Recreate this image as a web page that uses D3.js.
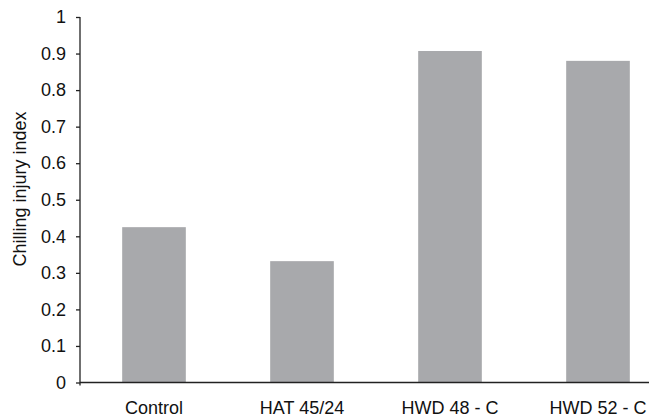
<html>
<head>
<script src="https://d3js.org/d3.v7.min.js"></script>
<style>
  body { margin: 0; background: #fff; }
  text { font-family: "Liberation Sans", Arial, sans-serif; fill: #111; }
</style>
</head>
<body>
<div id="chart"></div>
<script>
// data
var categories = ["Control", "HAT 45/24", "HWD 48 - C", "HWD 52 - C"];
var values = [0.425, 0.332, 0.907, 0.880];
var yTicks = [0, 0.1, 0.2, 0.3, 0.4, 0.5, 0.6, 0.7, 0.8, 0.9, 1];

const width = 649, height = 419;
const left = 80, zeroY = 382.5, topY = 17;

const svg = d3.select("#chart").append("svg")
    .attr("width", width)
    .attr("height", height);

var x = d3.scaleBand()
    .domain(categories)
    .range([left, left + 4 * 148])
    .paddingInner(0.57)
    .paddingOuter(0.285);

var y = d3.scaleLinear().domain([0, 1]).range([zeroY, topY]);

// bars
svg.selectAll("rect")
    .data(values)
    .enter()
    .append("rect")
    .attr("x", (d, i) => x(categories[i]))
    .attr("width", x.bandwidth())
    .attr("y", d => y(d))
    .attr("height", d => y(0) - y(d))
    .style("fill", "#a8a9ac");

// y axis
var yAxis = svg.append("g")
    .attr("transform", "translate(" + left + ",0)")
    .call(d3.axisLeft(y).tickValues(yTicks).tickSize(4).tickPadding(10)
        .tickFormat(d => d === 0 ? "0" : d === 1 ? "1" : d3.format(".1f")(d)));
yAxis.select(".domain").attr("stroke", "#222").attr("stroke-width", 1.3).attr("d", "M0," + (zeroY + 3) + "V" + topY);
yAxis.selectAll(".tick line").attr("stroke", "#222").attr("stroke-width", 1.3);
yAxis.selectAll(".tick text").style("font-size", "18px")
    .style("font-family", "'Liberation Sans', Arial, sans-serif").attr("fill", "#111");

// x axis
var xAxis = svg.append("g")
    .attr("transform", "translate(0," + zeroY + ")")
    .call(d3.axisBottom(x).tickSize(0).tickPadding(19));
xAxis.select(".domain").attr("stroke", "#222").attr("stroke-width", 1.3).attr("d", "M" + left + ",0H" + width);
xAxis.selectAll(".tick text").style("font-size", "18px")
    .style("font-family", "'Liberation Sans', Arial, sans-serif").attr("fill", "#111");

// y title
svg.append("text")
    .attr("transform", "translate(26,189) rotate(-90)")
    .attr("text-anchor", "middle")
    .style("font-size", "18px")
    .text("Chilling injury index");
</script>
</body>
</html>
